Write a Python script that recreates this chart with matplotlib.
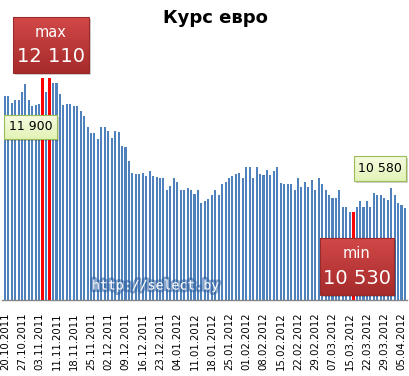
import matplotlib.pyplot as plt
import matplotlib.patheffects as pe
from matplotlib.patches import Rectangle
import numpy as np

# курс евро по дням (BYR)
rates = [
    11900, 11900, 11820, 11855, 11855, 11950, 12040, 11850, 11780, 11800,
    11810, 12110, 11950, 12110, 12050, 12050, 11920, 11800, 11810, 11810,
    11780, 11780, 11720, 11660, 11530, 11460, 11470, 11400, 11530, 11530,
    11490, 11410, 11490, 11480, 11310, 11300, 11140, 11000, 10980, 10980,
    11000, 10960, 11020, 10960, 10950, 10930, 10940, 10800, 10840, 10940,
    10890, 10800, 10790, 10820, 10800, 10750, 10800, 10640, 10670, 10690,
    10740, 10800, 10730, 10860, 10890, 10940, 10960, 10980, 11000, 10930,
    11070, 11060, 10930, 11060, 10980, 10970, 11030, 10970, 11020, 11070,
    10880, 10860, 10870, 10860, 10790, 10930, 10830, 10890, 10830, 10910,
    10800, 10930, 10860, 10800, 10730, 10700, 10700, 10800, 10600, 10600,
    10540, 10530, 10600, 10670, 10590, 10670, 10600, 10760, 10730, 10740,
    10700, 10680, 10820, 10730, 10640, 10620, 10580,
]

date_labels = [
    '20.10.2011', '27.10.2011', '03.11.2011', '11.11.2011', '18.11.2011',
    '25.11.2011', '02.12.2011', '09.12.2011', '16.12.2011', '23.12.2011',
    '04.01.2012', '11.01.2012', '18.01.2012', '25.01.2012', '01.02.2012',
    '08.02.2012', '15.02.2012', '22.02.2012', '29.02.2012', '07.03.2012',
    '15.03.2012', '22.03.2012', '29.03.2012', '05.04.2012',
]
label_step = 5

BLUE = '#4f81bd'
RED = '#ff0000'


def fmt(v):
    return f'{v:,}'.replace(',', ' ')


fig = plt.figure(figsize=(4.10, 3.76), dpi=100)
ax = fig.add_axes([2 / 410, 76 / 376, 405 / 410, 255 / 376])

x = np.arange(len(rates))
vals = np.array(rates)
vmax, vmin = vals.max(), vals.min()
hi = np.where(vals == vmax)[0]
lo = np.where(vals == vmin)[0]

ax.bar(x, vals, width=0.6, color=BLUE, zorder=2)
ax.bar(hi, vals[hi], width=0.8, color=RED, zorder=3)
ax.bar(lo, vals[lo], width=0.8, color=RED, zorder=3)

ax.set_xlim(-0.8, len(rates) - 0.4)
ax.set_ylim(9500, 12500)
for s in ['top', 'left', 'right']:
    ax.spines[s].set_visible(False)
ax.spines['bottom'].set_color('#868686')
ax.spines['bottom'].set_linewidth(1.0)
ax.set_yticks([])
ax.set_xticks(x[::label_step])
ax.set_xticklabels(date_labels, rotation=90, fontsize=7.3)
ax.tick_params(axis='x', length=0, pad=9)

fig.text(215 / 410, 1 - 18 / 376, 'Курс евро', ha='center', va='center',
         fontsize=13, fontweight='bold')

# слой для подписей в пикселях картинки
ov = fig.add_axes([0, 0, 1, 1], zorder=5)
ov.patch.set_alpha(0)
ov.axis('off')


def grad_box(x0, y0, x1, y1, top, bottom, edge):
    c0 = np.array(plt.matplotlib.colors.to_rgb(top))
    c1 = np.array(plt.matplotlib.colors.to_rgb(bottom))
    t = np.linspace(0, 1, 64)[:, None, None]
    img = c0 * (1 - t) + c1 * t
    ov.add_patch(Rectangle((x0 + 2, y0 + 2), x1 - x0, y1 - y0,
                           facecolor='#000000', alpha=0.18, lw=0))
    ov.imshow(img, extent=(x0, x1, y1, y0), origin='upper', aspect='auto',
              interpolation='bilinear', zorder=2)
    ov.add_patch(Rectangle((x0, y0), x1 - x0, y1 - y0, facecolor='none',
                           edgecolor=edge, lw=0.8, zorder=3))


def red_label(x0, y0, x1, y1, word, v):
    grad_box(x0, y0, x1, y1, '#d24848', '#a62b2b', '#9a2a2a')
    cx = (x0 + x1) / 2
    ov.text(cx, y0 + (y1 - y0) * 0.28, word, color='white', fontsize=10.5,
            ha='center', va='center', zorder=4)
    ov.text(cx, y0 + (y1 - y0) * 0.71, fmt(v), color='white', fontsize=14,
            ha='center', va='center', zorder=4)


def green_label(x0, y0, x1, y1, v):
    grad_box(x0, y0, x1, y1, '#f4fbe0', '#e3f3b6', '#9bbb59')
    ov.text((x0 + x1) / 2, (y0 + y1) / 2, fmt(v), color='black', fontsize=9,
            ha='center', va='center', zorder=4)


red_label(13, 17, 89, 73, 'max', vmax)
red_label(320, 238, 394, 295, 'min', vmin)
green_label(4, 115, 57, 139, rates[0])
green_label(354, 156, 406, 181, rates[-1])

ov.text(156, 286, 'http://select.by', family='DejaVu Sans Mono', fontsize=9.5,
        color='white', ha='center', va='center', zorder=4,
        path_effects=[pe.withStroke(linewidth=4, foreground='#2f5f9f', alpha=0.55)])

ov.set_xlim(0, 410)
ov.set_ylim(376, 0)

plt.savefig('out.png', dpi=100)
